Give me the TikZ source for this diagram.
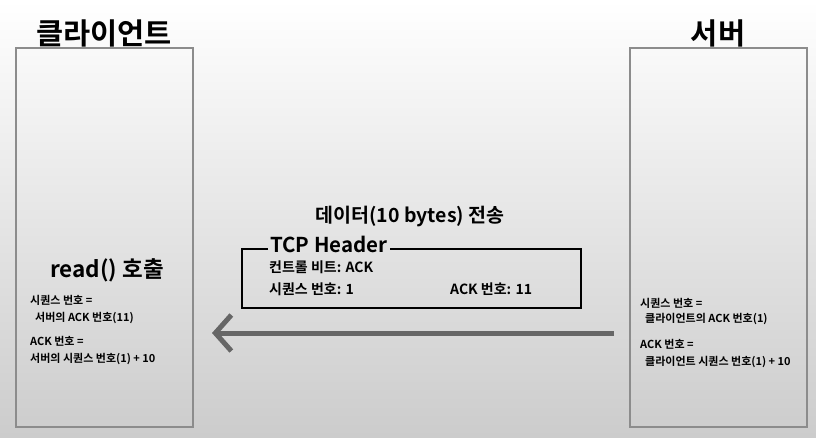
\documentclass[tikz,border=0pt]{standalone}
\usepackage{fontspec}
\setmainfont{Noto Sans CJK KR}[BoldFont={Noto Sans CJK KR Bold}]
\usetikzlibrary{arrows.meta}
\begin{document}
\begin{tikzpicture}[x=1pt,y=-1pt,font=\bfseries,
    host/.style={draw=black!45,line width=1.2pt,minimum width=177pt,minimum height=379pt},
    title/.style={font=\fontsize{29.5}{31}\bfseries},
    note/.style={anchor=base west,inner sep=0pt,font=\fontsize{11}{13}\bfseries},
    field/.style={anchor=base west,inner sep=0pt,font=\fontsize{14}{16}\bfseries}]
  \shade[top color=white,middle color=black!3,bottom color=black!20] (0,0) rectangle (816,437);
  \useasboundingbox (0,0) rectangle (816,437);
  % hosts
  \node[host] (client) at (104.5,237.5) {};
  \node[host] (server) at (718.5,237.5) {};
  \node[title] (clienttitle) at (104,33) {클라이언트};
  \node[title] (servertitle) at (718,33) {서버};
  % client side
  \node[font=\fontsize{22.5}{24}\bfseries] (read) at (107,270) {read() 호출};
  \node[note] (cseq) at (30,304) {시퀀스 번호 =};
  \node[note] (cseqv) at (35,321) {서버의 ACK 번호(11)};
  \node[note] (cack) at (30,345) {ACK 번호 =};
  \node[note] (cackv) at (30,362) {서버의 시퀀스 번호(1) + 10};
  % server side
  \node[note] (sseq) at (640,307) {시퀀스 번호 =};
  \node[note] (sseqv) at (645,322) {클라이언트의 ACK 번호(1)};
  \node[note] (sack) at (640,348) {ACK 번호 =};
  \node[note] (sackv) at (645,365) {클라이언트 시퀀스 번호(1) + 10};
  % segment
  \node[font=\fontsize{19.5}{21}\bfseries] (data) at (410,216) {데이터(10 bytes) 전송};
  \node[anchor=base west,inner sep=2pt,font=\fontsize{20.5}{22}\bfseries] (hdr) at (268,252) {TCP Header};
  \draw[line width=1.8pt] (hdr.west |- 0,249) -- (242,249) |- (581,308) |- (hdr.east |- 0,249);
  \node[field] (ctrl) at (269,272) {컨트롤 비트: ACK};
  \node[field] (seq) at (269,294) {시퀀스 번호: 1};
  \node[field] (ack) at (450,294) {ACK 번호: 11};
  % transfer arrow
  \coordinate (from) at (614,333);
  \coordinate (to) at (212,333);
  \draw[black!60,line width=5pt,-{Straight Barb[length=16pt,width=36pt]}] (from) -- (to);
\end{tikzpicture}
\end{document}
